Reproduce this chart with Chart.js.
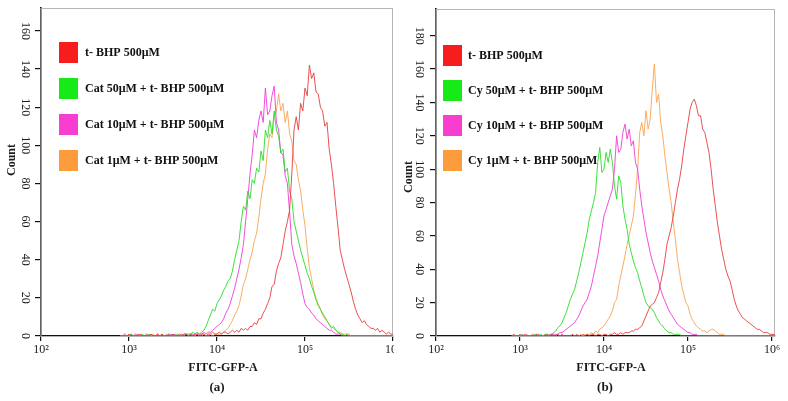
<!DOCTYPE html>
<html>
<head>
<meta charset="utf-8">
<script src="https://cdn.jsdelivr.net/npm/chart.js@4.4.1/dist/chart.umd.min.js"></script>
<style>
html, body { margin: 0; padding: 0; background: #fff; }
#wrap { display: flex; width: 788px; height: 401px; }
canvas { display: block; }
</style>
</head>
<body>
<div id="wrap">
  <canvas id="chartA" width="394" height="401"></canvas>
  <canvas id="chartB" width="394" height="401"></canvas>
</div>
<script>
// histogram bin centres, log10 of FITC-GFP-A intensity
const binLog = [
    2.900, 2.925, 2.950, 2.975, 3.000, 3.025, 3.050, 3.075,
    3.100, 3.125, 3.150, 3.175, 3.200, 3.225, 3.250, 3.275,
    3.300, 3.325, 3.350, 3.375, 3.400, 3.425, 3.450, 3.475,
    3.500, 3.525, 3.550, 3.575, 3.600, 3.625, 3.650, 3.675,
    3.700, 3.725, 3.750, 3.775, 3.800, 3.825, 3.850, 3.875,
    3.900, 3.925, 3.950, 3.975, 4.000, 4.025, 4.050, 4.075,
    4.100, 4.125, 4.150, 4.175, 4.200, 4.225, 4.250, 4.275,
    4.300, 4.325, 4.350, 4.375, 4.400, 4.425, 4.450, 4.475,
    4.500, 4.525, 4.550, 4.575, 4.600, 4.625, 4.650, 4.675,
    4.700, 4.725, 4.750, 4.775, 4.800, 4.825, 4.850, 4.875,
    4.900, 4.925, 4.950, 4.975, 5.000, 5.025, 5.050, 5.075,
    5.100, 5.125, 5.150, 5.175, 5.200, 5.225, 5.250, 5.275,
    5.300, 5.325, 5.350, 5.375, 5.400, 5.425, 5.450, 5.475,
    5.500, 5.525, 5.550, 5.575, 5.600, 5.625, 5.650, 5.675,
    5.700, 5.725, 5.750, 5.775, 5.800, 5.825, 5.850, 5.875,
    5.900, 5.925, 5.950, 5.975, 6.000, 6.025, 6.050
];

const xTickValues = [1e2, 1e3, 1e4, 1e5, 1e6];
const xTickLabels = ['10²', '10³', '10⁴', '10⁵', '10⁶'];
const countTicksA = [0, 20, 40, 60, 80, 100, 120, 140, 160];
const countTicksB = [0, 20, 40, 60, 80, 100, 120, 140, 160, 180];

const seriesLabelsA = ['t- BHP 500μM', 'Cat 50μM + t- BHP 500μM', 'Cat 10μM + t- BHP 500μM', 'Cat 1μM + t- BHP 500μM'];
const seriesLabelsB = ['t- BHP 500μM', 'Cy 50μM + t- BHP 500μM', 'Cy 10μM + t- BHP 500μM', 'Cy 1μM + t- BHP 500μM'];

// panel (a) counts per bin
const tbhpA = [
    0,0,1,0, 1,0,0,1, 0,1,0,0, 1,0,1,0, 0,1,0,1, 0,0,1,0, 1,0,0,1, 0,1,1,0,
    1,0,1,1, 0,1,1,0, 1,1,2,1, 1,2,1,2, 2,1,2,3, 2,3,2,4, 3,4,3,5, 5,7,6,9,
    9,12,14,17, 20,26,27,34, 38,41,48,55, 60,66,85,108, 115,108,122,118, 130,126,142,135,
    138,128,127,120, 118,110,112,98, 90,80,68,57, 45,40,35,31, 27,23,18,14, 11,9,7,8,
    6,5,4,4, 3,4,2,3, 2,1,2,1, 1,1,0
];
const cat50 = [
    0,0,0,0, 0,1,0,0, 0,0,1,0, 0,1,0,0, 0,0,0,1, 0,0,1,0, 1,0,1,0, 0,1,1,1,
    1,2,1,2, 1,2,3,5, 8,11,14,13, 17,19,21,24, 26,29,30,34, 40,45,50,60, 68,66,76,72, 82,80,88,86,
    97,92,108,104, 113,106,118,108, 105,96,98,86, 88,76,72,60, 55,50,45,41, 37,33,30,26,
    23,19,16,14, 12,10,8,6, 4,5,3,2, 1,1,0,1, 0,0,0,0, 0,0,0,0,
    0,0,0,0, 0,0,0,0, 0,0,0,0, 0,0,0
];
const cat10 = [
    0,0,0,0, 0,1,0,0, 1,0,0,0, 0,0,1,0, 0,1,0,0, 0,0,0,1, 0,1,0,0, 1,0,1,0,
    1,1,0,1, 1,1,2,1, 2,2,3,4, 5,6,7,9, 12,14,17,21, 25,30,35,41, 48,60,72,85, 95,108,104,113,
    118,112,130,116, 118,126,131,112, 108,96,95,84, 80,65,48,42, 38,33,28,22, 17,15,14,12,
    11,9,8,7, 6,5,4,3, 3,2,1,1, 1,0,0,0, 0,0,0,0, 0,0,0,0,
    0,0,0,0, 0,0,0,0, 0,0,0,0, 0,0,0
];
const cat1 = [
    0,0,0,0, 0,0,0,0, 0,0,0,0, 0,0,0,1, 0,0,0,0, 0,1,0,0, 0,0,0,0, 0,0,1,0,
    0,0,0,1, 0,0,1,0, 0,1,0,1, 1,1,1,2, 3,4,6,8, 11,13,16,21, 27,30,35,40, 44,50,54,62,
    72,80,85,98, 106,104,115,118, 127,118,122,112, 118,106,102,92, 90,82,76,66, 58,46,36,30,
    24,20,17,14, 11,9,8,6, 5,4,3,2, 2,1,1,1, 1,0,0,0, 0,0,0,0,
    0,0,0,0, 0,0,0,0, 0,0,0,0, 0,0,0
];

// panel (b) counts per bin
const tbhpB = [
    0,1,0,0, 1,0,0,1, 0,0,1,0, 1,0,0,0, 0,1,0,1, 0,0,1,0, 1,0,0,0, 0,1,0,1,
    0,0,1,0, 1,0,1,1, 0,1,1,0, 1,1,0,1, 1,2,1,1, 2,1,2,2, 2,3,3,4, 4,5,6,9,
    12,15,18,19, 20,23,26,32, 38,46,55,60, 65,72,80,88, 94,102,112,120, 128,136,140,142,
    138,132,132,124, 122,116,110,100, 88,78,68,60, 52,46,40,36, 33,28,22,18, 15,13,11,10,
    9,8,7,6, 5,4,4,3, 2,2,2,1, 1,1,0
];
const cy50 = [
    0,0,0,0, 0,1,0,0, 0,0,0,1, 1,0,1,0, 1,1,0,1, 2,3,5,6, 8,11,14,18, 22,25,28,33,
    38,44,50,56, 62,70,75,80, 86,104,113,98, 100,110,104,112, 104,90,82,96, 92,78,70,64, 55,50,45,41, 38,33,29,24,
    20,18,17,16, 14,11,9,7, 6,4,3,2, 2,1,1,1, 1,0,0,0, 0,0,0,0,
    0,0,0,0, 0,0,0,0, 0,0,0,0, 0,0,0,0, 0,0,0,0, 0,0,0,0,
    0,0,0,0, 0,0,0,0, 0,0,0,0, 0,0,0
];
const cy10 = [
    0,0,0,0, 0,0,1,0, 0,0,0,0, 0,1,0,0, 1,0,1,1, 1,1,1,2, 2,3,4,5, 6,7,8,10,
    12,15,18,20, 22,26,30,36, 42,48,56,64, 72,76,80,84, 88,100,120,110, 112,122,127,118, 124,114,117,104, 100,88,78,70,
    62,56,50,45, 41,37,33,28, 24,21,18,15, 13,11,9,7, 6,5,4,3, 2,2,1,1,
    1,0,0,0, 0,0,0,0, 0,0,0,0, 0,0,0,0, 0,0,0,0, 0,0,0,0,
    0,0,0,0, 0,0,0,0, 0,0,0,0, 0,0,0
];
const cy1 = [
    0,0,0,0, 0,0,0,0, 0,0,0,0, 0,0,0,0, 0,0,0,0, 0,0,1,0, 0,0,0,0, 0,1,0,0,
    0,1,0,1, 1,1,2,1, 3,2,4,5, 6,8,10,12, 15,20,22,30, 36,42,48,55, 60,66,72,85, 100,122,128,120,
    135,124,130,148, 163,140,145,128, 120,108,98,88, 80,68,58,46, 38,30,25,20, 18,13,10,8,
    6,5,4,3, 3,2,3,4, 4,3,2,1, 1,1,0,0, 0,0,0,0, 0,0,0,0,
    0,0,0,0, 0,0,0,0, 0,0,0,0, 0,0,0
];

const lineColors = ['rgba(232,62,62,0.9)', 'rgba(40,222,40,0.9)', 'rgba(238,60,218,0.9)', 'rgba(250,164,82,0.9)'];
const swatchColors = ['#f71d1d', '#18ea18', '#f83ed0', '#fd9c3c'];
const SERIF = '"Liberation Serif", "DejaVu Serif", serif';

function makePoints(counts) {
    return binLog.map((L, i) => ({x: Math.pow(10, L), y: counts[i]}));
}

// legend boxes drawn inside the plot area
const insideLegend = {
    id: 'insideLegend',
    afterDraw(chart, args, opts) {
        const {ctx} = chart;
        ctx.save();
        ctx.font = 'bold 12px ' + SERIF;
        ctx.textBaseline = 'middle';
        ctx.textAlign = 'left';
        chart.data.datasets.forEach((ds, i) => {
            const top = opts.top + i * opts.gap;
            ctx.fillStyle = ds.swatch;
            ctx.fillRect(opts.left, top, 19, 21);
            ctx.fillStyle = '#111';
            ctx.fillText(ds.label, opts.textLeft, top + 11);
        });
        ctx.restore();
    }
};

// rotated count labels, axis titles and the grey frame
const axisText = {
    id: 'axisText',
    beforeDatasetsDraw(chart) {
        const {ctx, chartArea} = chart;
        ctx.save();
        ctx.strokeStyle = '#b5b5b5';
        ctx.lineWidth = 1;
        ctx.strokeRect(chartArea.left, chartArea.top + 0.5, chartArea.right - chartArea.left - 0.5, chartArea.bottom - chartArea.top);
        ctx.restore();
    },
    afterDraw(chart, args, opts) {
        const {ctx} = chart;
        const yScale = chart.scales.y;
        ctx.save();
        ctx.fillStyle = '#1a1a1a';
        ctx.font = '12px ' + SERIF;
        ctx.textAlign = 'center';
        ctx.textBaseline = 'middle';
        yScale.ticks.forEach(t => {
            const py = yScale.getPixelForValue(t.value);
            ctx.save();
            ctx.translate(opts.tickX, py);
            ctx.rotate(Math.PI / 2);
            ctx.fillText(String(t.value), 0, 0);
            ctx.restore();
        });
        ctx.font = 'bold 12px ' + SERIF;
        ctx.save();
        ctx.translate(opts.countX, opts.countY);
        ctx.rotate(-Math.PI / 2);
        ctx.fillText('Count', 0, 0);
        ctx.restore();
        ctx.fillText('FITC-GFP-A', opts.titleX, 368);
        ctx.font = 'bold 13px ' + SERIF;
        ctx.fillText(opts.panel, opts.panelX, 388);
        ctx.restore();
    }
};

function makeChart(canvasId, seriesList, labels, countTicks, yMax, xMax, panelOpts) {
    const ctx = document.getElementById(canvasId).getContext('2d');
    const datasets = seriesList.map((counts, i) => ({
        label: labels[i],
        data: makePoints(counts),
        borderColor: lineColors[i],
        swatch: swatchColors[i],
        borderWidth: 1,
        pointRadius: 0,
        tension: 0,
        fill: false
    }));
    return new Chart(ctx, {
        type: 'line',
        data: {datasets},
        options: {
            responsive: false,
            animation: false,
            layout: {padding: {top: panelOpts.padTop, right: panelOpts.padRight, left: 0, bottom: 0}},
            plugins: {
                legend: {display: false},
                tooltip: {enabled: false},
                insideLegend: panelOpts.legend,
                axisText: panelOpts.text
            },
            scales: {
                x: {
                    type: 'logarithmic',
                    min: 100,
                    max: xMax,
                    afterBuildTicks: scale => {
                        scale.ticks = xTickValues.map(v => ({value: v}));
                    },
                    afterFit: scale => {
                        scale.height = 65;
                        // let the end labels overhang instead of shrinking the plot
                        scale.paddingLeft = 0;
                        scale.paddingRight = 0;
                    },
                    ticks: {
                        autoSkip: false,
                        maxRotation: 0,
                        padding: 2,
                        color: '#1a1a1a',
                        font: {family: SERIF, size: 12},
                        callback: (value) => xTickLabels[xTickValues.indexOf(value)] ?? ''
                    },
                    grid: {display: true, drawOnChartArea: false, drawTicks: true, tickLength: 5, color: '#111', lineWidth: 1.2},
                    border: {display: true, color: '#111', width: 1.6}
                },
                y: {
                    min: 0,
                    max: yMax,
                    afterBuildTicks: scale => {
                        scale.ticks = countTicks.map(v => ({value: v}));
                    },
                    afterFit: scale => { scale.width = panelOpts.yWidth; },
                    ticks: {display: false},
                    grid: {display: true, drawOnChartArea: false, drawTicks: true, tickLength: 6, color: '#111', lineWidth: 1.2},
                    border: {display: true, color: '#111', width: 1.6}
                }
            }
        },
        plugins: [insideLegend, axisText]
    });
}

makeChart('chartA', [tbhpA, cat50, cat10, cat1], seriesLabelsA, countTicksA, 172, 1e6, {
    padTop: 8, padRight: 1, yWidth: 41,
    legend: {left: 59, top: 42, gap: 36, textLeft: 85},
    text: {tickX: 25, countX: 12, countY: 160, titleX: 223, panel: '(a)', panelX: 217}
});
makeChart('chartB', [tbhpB, cy50, cy10, cy1], seriesLabelsB, countTicksB, 196, 1.086e6, {
    padTop: 9, padRight: 13, yWidth: 42,
    legend: {left: 49, top: 45, gap: 35, textLeft: 74},
    text: {tickX: 25, countX: 15, countY: 177, titleX: 217, panel: '(b)', panelX: 211}
});
</script>
</body>
</html>
